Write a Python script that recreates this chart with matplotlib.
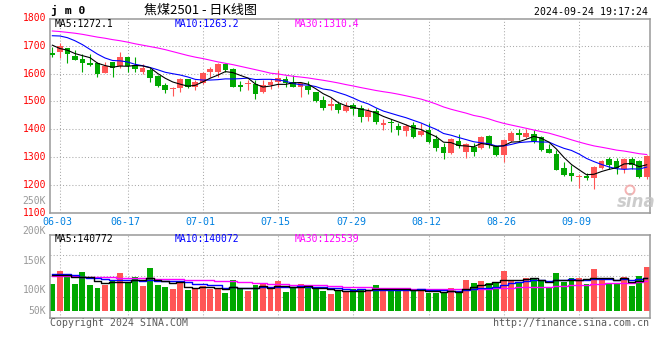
import matplotlib
matplotlib.use("Agg")
import matplotlib.pyplot as plt
import numpy as np
import pandas as pd
from matplotlib.patches import Circle

# 焦煤2501 daily candles, 05-31 .. 09-24
opens = [1675, 1679, 1691, 1663, 1652, 1637, 1637, 1603, 1643, 1627,
         1658, 1631, 1604, 1613, 1591, 1559, 1543, 1547, 1579, 1553,
         1567, 1607, 1607, 1633, 1616, 1559, 1562, 1562, 1535, 1559,
         1571, 1580, 1571, 1553, 1555, 1535, 1505, 1484, 1491, 1466,
         1487, 1478, 1444, 1466, 1416, 1427, 1412, 1394, 1416, 1380,
         1397, 1364, 1337, 1313, 1358, 1319, 1337, 1331, 1376, 1340,
         1307, 1359, 1385, 1373, 1384, 1372, 1330, 1312, 1262, 1244,
         1228, 1233, 1226, 1262, 1294, 1285, 1258, 1294, 1286, 1228]
closes = [1667, 1699, 1670, 1649, 1637, 1631, 1600, 1627, 1619, 1658,
          1627, 1615, 1619, 1585, 1556, 1541, 1548, 1579, 1550, 1571,
          1603, 1615, 1633, 1613, 1553, 1553, 1567, 1526, 1559, 1571,
          1583, 1567, 1553, 1565, 1541, 1502, 1477, 1489, 1469, 1485,
          1472, 1445, 1464, 1427, 1422, 1422, 1396, 1412, 1373, 1392,
          1355, 1334, 1313, 1365, 1340, 1347, 1319, 1373, 1343, 1307,
          1361, 1385, 1379, 1388, 1358, 1327, 1316, 1255, 1237, 1231,
          1233, 1226, 1264, 1286, 1270, 1262, 1294, 1273, 1228, 1304]
highs = [1697, 1709, 1691, 1685, 1670, 1670, 1643, 1640, 1643, 1679,
         1661, 1661, 1633, 1619, 1595, 1567, 1553, 1583, 1582, 1577,
         1607, 1622, 1637, 1637, 1619, 1573, 1577, 1577, 1577, 1579,
         1613, 1591, 1595, 1571, 1573, 1535, 1519, 1511, 1499, 1499,
         1493, 1487, 1475, 1475, 1435, 1437, 1421, 1419, 1425, 1421,
         1421, 1379, 1349, 1367, 1382, 1352, 1352, 1376, 1379, 1343,
         1365, 1395, 1399, 1399, 1396, 1376, 1346, 1324, 1282, 1270,
         1240, 1243, 1267, 1291, 1300, 1297, 1297, 1300, 1288, 1306]
lows = [1661, 1655, 1639, 1649, 1607, 1628, 1589, 1601, 1589, 1619,
        1607, 1604, 1597, 1568, 1553, 1531, 1520, 1535, 1548, 1541,
        1562, 1589, 1589, 1607, 1550, 1538, 1541, 1508, 1529, 1543,
        1553, 1553, 1550, 1517, 1526, 1499, 1469, 1469, 1459, 1463,
        1451, 1427, 1430, 1417, 1397, 1391, 1380, 1374, 1369, 1377,
        1349, 1322, 1293, 1311, 1331, 1295, 1305, 1328, 1331, 1304,
        1283, 1355, 1361, 1367, 1352, 1322, 1315, 1252, 1231, 1213,
        1190, 1219, 1184, 1258, 1258, 1238, 1243, 1258, 1226, 1222]
volumes = [116000, 173000, 160000, 116000, 169000, 112000, 99000, 112000, 131000, 164000,
           121000, 146000, 108000, 186000, 112000, 103000, 95000, 121000, 92000, 95000,
           109000, 96000, 99000, 79000, 134000, 93000, 87000, 112000, 115000, 93000,
           130000, 83000, 97000, 117000, 104000, 101000, 85000, 72000, 90000, 80000,
           96000, 90000, 86000, 112000, 92000, 88000, 92000, 90000, 86000, 95000,
           78000, 76000, 76000, 99000, 81000, 134000, 122000, 130000, 121000, 120000,
           173000, 133000, 122000, 143000, 140000, 134000, 97000, 164000, 126000, 142000,
           142000, 116000, 182000, 142000, 122000, 116000, 148000, 108000, 152000, 192000]

# moving-average values before a full window exists
ma5_head = [1702, 1690, 1684, 1672]
ma10_head = [1736, 1735, 1729, 1718, 1704, 1687, 1670, 1656, 1647]
ma30_head = [1753, 1751, 1748, 1745, 1741, 1736, 1731, 1727, 1722, 1718,
             1713, 1707, 1702, 1697, 1692, 1686, 1679, 1672, 1665, 1659,
             1654, 1648, 1642, 1637, 1632, 1626, 1620, 1614, 1608]
vma5_head = [156000, 156000, 158000, 149000]
vma10_head = [160000, 160000, 159000, 154000, 149000, 145000, 141000, 138000, 136000]
vma30_head = [151000, 150500, 150000, 149500, 149000, 148000, 147500, 147000, 146000, 145000,
              144000, 143000, 142000, 141000, 140000, 139000, 138000, 137000, 136000, 135000,
              134000, 132500, 131000, 129500, 128000, 126000, 124000, 122000, 120000]

tick_idx = [1, 10, 20, 30, 40, 50, 60, 70]
tick_labels = ['06-03', '06-17', '07-01', '07-15', '07-29', '08-12', '08-26', '09-09']
price_ticks = [1100, 1200, 1300, 1400, 1500, 1600, 1700, 1800]
vol_labels = ['250K', '200K', '150K', '100K', '50K']
vol_label_y = [201, 231, 261, 290, 310.7]   # pixel rows, as placed on the original


def moving(values, n, head):
    m = pd.Series(values, dtype=float).rolling(n).mean().to_numpy()
    m[:n - 1] = head
    return m


W, H = 660, 360
def fx(px):
    return px / W
def fy(py):
    return 1 - py / H

RED = '#FF5555'
GREEN = '#00A800'
GRID = dict(color='#AAAAAA', lw=0.75, linestyle=(0, (1, 2)), zorder=1)
MONO = 'DejaVu Sans Mono'

fig = plt.figure(figsize=(6.6, 3.6), dpi=100)
fig.patch.set_facecolor('white')
ax1 = fig.add_axes([fx(50), fy(212.7), (649.5 - 50) / W, (212.7 - 19.3) / H])
ax2 = fig.add_axes([fx(50), fy(317.7), (649.5 - 50) / W, (317.7 - 234.7) / H])

x = np.arange(len(closes))
o = np.array(opens, dtype=float)
c = np.array(closes, dtype=float)
colors = np.where(c > o, RED, GREEN)

# price panel
for p in price_ticks[1:-1]:
    ax1.axhline(p, **GRID)
for t in tick_idx:
    ax1.axvline(t, **GRID)
    ax2.axvline(t, **GRID)

ax1.vlines(x, lows, highs, colors=colors, lw=0.8, zorder=2)
ax1.bar(x, np.maximum(np.abs(c - o), 4), bottom=np.minimum(o, c), width=0.76,
        color=colors, linewidth=0, zorder=3)

ma5 = moving(closes, 5, ma5_head)
ma10 = moving(closes, 10, ma10_head)
ma30 = moving(closes, 30, ma30_head)
ax1.plot(x, ma30, color='#FF00FF', lw=0.8, zorder=4)
ax1.plot(x, ma10, color='#0000FF', lw=0.8, zorder=4)
ax1.plot(x, ma5, color='black', lw=0.8, zorder=4)

ax1.set_xlim(-0.31, 79.37)
ax1.set_ylim(1100, 1795)

for p in price_ticks:
    ax1.text(-0.0067, p, str(p), transform=ax1.get_yaxis_transform(), ha='right',
             va='center', color='#FF0000', fontfamily=MONO, fontsize=7, clip_on=False)
for t, lab in zip(tick_idx, tick_labels):
    ax1.text(t - 0.3, -0.0465, lab, transform=ax1.get_xaxis_transform(), ha='center',
             va='center', color='#0080E0', fontfamily=MONO, fontsize=7.2, clip_on=False)

# volume panel
for f in (0.25, 0.5, 0.75):
    ax2.plot([0, 1], [f, f], transform=ax2.transAxes, **GRID)
ax2.bar(x, volumes, width=0.78, color=colors, linewidth=0, zorder=2)
vma5 = moving(volumes, 5, vma5_head)
vma10 = moving(volumes, 10, vma10_head)
vma30 = moving(volumes, 30, vma30_head)
ax2.plot(x, vma30, color='#FF00FF', lw=1.0, drawstyle='steps-mid', zorder=3)
ax2.plot(x, vma10, color='#0000FF', lw=1.0, drawstyle='steps-mid', zorder=3)
ax2.plot(x, vma5, color='black', lw=1.0, drawstyle='steps-mid', zorder=3)
ax2.set_xlim(-0.31, 79.37)
ax2.set_ylim(-30600, 332000)

for ax in (ax1, ax2):
    ax.set_xticks([])
    ax.set_yticks([])
    for s in ax.spines.values():
        s.set_color('#999999')
        s.set_linewidth(1.1)

for lab, py in zip(vol_labels, vol_label_y):
    fig.text(fx(46), fy(py), lab, ha='right', va='center', color='#999999',
             fontfamily=MONO, fontsize=7)

# headers
fig.text(fx(51), fy(10), 'j m 0', ha='left', va='center', fontfamily=MONO,
         fontweight='bold', fontsize=8.2)
fig.text(fx(200), fy(10.5), '焦煤2501 - 日K线图', ha='center', va='center',
         fontfamily=['Noto Sans CJK SC', 'DejaVu Sans'], fontsize=9.4, fontweight='medium')
fig.text(fx(648), fy(12), '2024-09-24 19:17:24', ha='right', va='center',
         fontfamily=MONO, fontsize=7.1)

fig.text(fx(55), fy(24), 'MA5:1272.1', color='black', va='center', fontfamily=MONO, fontsize=7)
fig.text(fx(174.3), fy(24), 'MA10:1263.2', color='#0000FF', va='center', fontfamily=MONO, fontsize=7)
fig.text(fx(295), fy(24), 'MA30:1310.4', color='#FF00FF', va='center', fontfamily=MONO, fontsize=7)

fig.text(fx(54.3), fy(238.5), 'MA5:140772', color='black', va='center', fontfamily=MONO, fontsize=7)
fig.text(fx(174.3), fy(238.5), 'MA10:140072', color='#0000FF', va='center', fontfamily=MONO, fontsize=7)
fig.text(fx(295), fy(238.5), 'MA30:125539', color='#FF00FF', va='center', fontfamily=MONO, fontsize=7)

fig.text(fx(50), fy(323.5), 'Copyright 2024 SINA.COM', ha='left', va='center',
         color='#5A5A5A', fontfamily=MONO, fontsize=7.1)
fig.text(fx(649), fy(323.5), 'http://finance.sina.com.cn', ha='right', va='center',
         color='#5A5A5A', fontfamily=MONO, fontsize=7.2)

# sina watermark
fig.text(fx(636), fy(202), 'sina', ha='center', va='center', color='#C4C4C4',
         fontstyle='italic', fontweight='bold', fontsize=12, alpha=0.85)
fig.add_artist(Circle((630 / 100, (H - 190) / 100), 0.045, transform=fig.dpi_scale_trans,
                      fill=False, edgecolor='#F2A0A0', lw=1.4, alpha=0.8))

fig.savefig('out.png', dpi=100)
